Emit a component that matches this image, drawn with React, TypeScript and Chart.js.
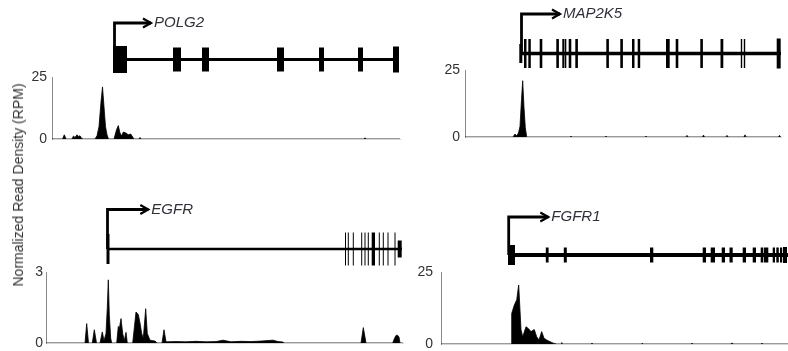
import React, { useEffect, useRef } from "react";
import { Chart, registerables } from "chart.js";

Chart.register(...registerables);

// ---------- DATA (x in positions relative to each panel's axis, y in RPM) ----------
const geneNames = ["POLG2", "MAP2K5", "EGFR", "FGFR1"];
const yAxisMax = [25, 25, 3, 25];
const yAxisTitle = "Normalized Read Density (RPM)";

// POLG2
const polg2DensX = [0, 10.5, 12.3, 14, 20, 21.5, 23, 25, 26.5, 28, 29.5, 31, 43, 45, 47, 49, 50.5, 52, 53.5, 55, 56.5, 62, 64.5, 66.3, 68, 69.7, 71.3, 74, 76.3, 78.7, 80.7, 82, 87, 88, 89, 312, 313, 314, 348];
const polg2DensY = [0, 0, 1.7, 0, 0, 1.2, 0.6, 1.7, 1.0, 1.3, 0.3, 0, 0, 1.3, 5, 15, 21, 13, 5, 1.7, 0, 0, 3.7, 5.4, 2.4, 1.3, 2.8, 2.4, 1.7, 2.0, 0.8, 0, 0, 0.6, 0, 0, 0.5, 0, 0];
const polg2ExonStart = [61, 121, 150, 225, 267, 306, 341];
const polg2ExonEnd = [75, 129, 157, 232, 272, 311, 347];
const polg2Gene = { intronStart: 62, intronEnd: 347, tss: 62.5, arrowEnd: 99 };

// MAP2K5
const map2k5DensX = [0, 48, 50, 51.5, 53.5, 55, 56.5, 57.7, 59, 60.3, 61.7, 105, 106, 107, 140, 141, 142, 180, 181, 182, 221, 222, 223, 237.5, 238.5, 239.5, 261, 262, 263, 279, 280, 281, 313.5, 314.5, 315.5, 316];
const map2k5DensY = [0, 0, 1.1, 0.4, 1.5, 4, 14, 21, 11, 3.5, 0, 0, 0.3, 0, 0, 0.3, 0, 0, 0.3, 0, 0, 0.6, 0, 0, 0.7, 0, 0, 0.6, 0, 0, 0.8, 0, 0, 0.6, 0, 0];
const map2k5ExonStart = [54.3, 59, 63.3, 74.7, 91.3, 97.3, 99.5, 103.7, 110.3, 141.3, 155.3, 167, 172.7, 201, 210.7, 235.3, 255.5, 275.8, 278.8, 311.7];
const map2k5ExonEnd = [57.3, 61.5, 65.8, 77.3, 93.9, 99, 101.3, 106.3, 112.9, 143.9, 157.9, 169.5, 175.2, 204.7, 213.3, 237.9, 258.3, 277.2, 280.2, 315.7];
const map2k5Gene = { intronStart: 55, intronEnd: 316, tss: 56.5, arrowEnd: 95 };

// EGFR
const egfrDensX = [0, 39, 40.7, 42.5, 46.3, 48.3, 50.5, 54, 56.3, 58, 60, 61.3, 62.3, 63.3, 64.7, 65.7, 70.7, 72.3, 73.3, 75, 76.7, 78.3, 80, 81.3, 86.7, 90, 92.3, 94, 95.7, 97.3, 99.7, 101.3, 104, 109, 111, 116, 118, 120, 130, 140, 150, 160, 170, 177, 185, 195, 205, 215, 227, 232, 237, 238, 315, 317.3, 320, 346.7, 348.5, 350, 351.5, 353, 354, 357];
const egfrDensY = [0, 0, 0.82, 0, 0, 0.56, 0, 0, 0.47, 0.1, 0.4, 1.5, 2.67, 1.2, 0.2, 0, 0, 0.7, 0.6, 1.03, 0.4, 0.1, 0.45, 0, 0, 1.31, 1.2, 0.85, 0.4, 0.2, 1.45, 0.4, 0.12, 0.08, 0, 0, 0.56, 0.05, 0.06, 0.05, 0.07, 0.05, 0.06, 0.12, 0.05, 0.07, 0.06, 0.08, 0.12, 0.06, 0.04, 0, 0, 0.65, 0, 0, 0.2, 0.32, 0.33, 0.25, 0, 0];
const egfrExonStart = [60.5, 299, 301.8, 306.8, 315.2, 318.5, 321.8, 325.7, 332.8, 336.8, 341.5, 348.5, 351.7];
const egfrExonEnd = [63.5, 300, 302.8, 307.8, 316.2, 319.5, 322.8, 329, 333.8, 337.8, 342.5, 349.5, 355.7];
const egfrGene = { intronStart: 61.5, intronEnd: 356, tss: 61.5, arrowEnd: 102.3 };

// FGFR1
const fgfr1DensX = [0, 70, 70.7, 73.3, 75.7, 77.7, 80, 81.7, 85, 87.3, 90, 93.3, 95.7, 98, 100.7, 103, 105.7, 109, 112.3, 115.7, 120, 120.7, 121.5, 150, 151, 152, 200, 201, 202, 250, 251, 252, 290, 291, 292, 320, 321, 322, 347];
const fgfr1DensY = [0, 0, 10.6, 13.5, 15.3, 20.5, 5, 2.5, 6, 5.4, 4.3, 5, 2.5, 1.4, 4.3, 2, 1.4, 0.8, 0.3, 0, 0, 0.5, 0, 0, 0.3, 0, 0, 0.3, 0, 0, 0.3, 0, 0, 0.4, 0, 0, 0.3, 0, 0];
const fgfr1ExonStart = [67, 104.8, 122.8, 209, 261.7, 269.7, 280.7, 288.5, 301.7, 311.7, 319.7, 323, 331.7, 335.3, 339, 342];
const fgfr1ExonEnd = [74, 107.6, 125.8, 212.3, 265, 274, 284, 291.7, 305, 315, 322.3, 327.3, 334, 337.8, 341.2, 346];
const fgfr1Gene = { intronStart: 67.5, intronEnd: 347, tss: 67.7, arrowEnd: 107.3 };

// ---------- LAYOUT / STYLE ----------
const FONT = '"Liberation Sans", Arial, sans-serif';
const Y_AXIS_W = 40;

type Panel = {
  name: string;
  yMax: number;
  densX: number[];
  densY: number[];
  exonStart: number[];
  exonEnd: number[];
  gene: { intronStart: number; intronEnd: number; tss: number; arrowEnd: number };
  layout: {
    axisX: number; axisTop: number; axisBottom: number; span: number;
    intronY: number; arrowY: number; intronW: number;
    exonH: number; firstH: number; lastH: number; tickPad: number;
  };
};

const panels: Panel[] = [
  {
    name: geneNames[0], yMax: yAxisMax[0], densX: polg2DensX, densY: polg2DensY,
    exonStart: polg2ExonStart, exonEnd: polg2ExonEnd, gene: polg2Gene,
    layout: { axisX: 52, axisTop: 77, axisBottom: 139, span: 348, intronY: 59.5, arrowY: 23, intronW: 3, exonH: 24, firstH: 27, lastH: 26, tickPad: 5 },
  },
  {
    name: geneNames[1], yMax: yAxisMax[1], densX: map2k5DensX, densY: map2k5DensY,
    exonStart: map2k5ExonStart, exonEnd: map2k5ExonEnd, gene: map2k5Gene,
    layout: { axisX: 465, axisTop: 70, axisBottom: 137, span: 316, intronY: 53.5, arrowY: 14, intronW: 3.5, exonH: 29, firstH: 19, lastH: 30, tickPad: 5 },
  },
  {
    name: geneNames[2], yMax: yAxisMax[2], densX: egfrDensX, densY: egfrDensY,
    exonStart: egfrExonStart, exonEnd: egfrExonEnd, gene: egfrGene,
    layout: { axisX: 46, axisTop: 272, axisBottom: 343, span: 357, intronY: 249, arrowY: 209.5, intronW: 2.5, exonH: 33, firstH: 30, lastH: 17, tickPad: 3 },
  },
  {
    name: geneNames[3], yMax: yAxisMax[3], densX: fgfr1DensX, densY: fgfr1DensY,
    exonStart: fgfr1ExonStart, exonEnd: fgfr1ExonEnd, gene: fgfr1Gene,
    layout: { axisX: 441, axisTop: 272, axisBottom: 344, span: 347, intronY: 255, arrowY: 217, intronW: 4, exonH: 15, firstH: 20, lastH: 16, tickPad: 8 },
  },
];

function useChart(ref: React.RefObject<HTMLCanvasElement | null>, make: () => any) {
  useEffect(() => {
    if (!ref.current) return;
    const chart = new Chart(ref.current, make());
    return () => chart.destroy();
  }, []);
}

function DensityChart({ p }: { p: Panel }) {
  const ref = useRef<HTMLCanvasElement>(null);
  const L = p.layout;
  const PAD = 10;
  const left = L.axisX - Y_AXIS_W;
  const top = L.axisTop - PAD;
  const width = Y_AXIS_W + L.span + 2;
  const height = L.axisBottom - L.axisTop + 2 * PAD;
  useChart(ref, () => ({
    type: "line",
    data: {
      datasets: [
        {
          data: p.densX.map((x, i) => ({ x, y: p.densY[i] })),
          fill: "origin",
          backgroundColor: "#000",
          borderColor: "#000",
          borderWidth: 0.8,
          pointRadius: 0,
          tension: 0,
        },
      ],
    },
    options: {
      animation: false,
      responsive: false,
      devicePixelRatio: 1,
      events: [],
      layout: { padding: { top: PAD, bottom: PAD, left: 0, right: 2 } },
      plugins: { legend: { display: false }, tooltip: { enabled: false }, title: { display: false } },
      scales: {
        x: {
          type: "linear", min: 0, max: L.span,
          grid: { display: false, drawTicks: false },
          ticks: { display: false },
          border: { display: true, color: "#d4d4d4", width: 1 },
          afterFit: (s: any) => { s.height = 0; s.paddingLeft = 0; s.paddingRight = 0; },
        },
        y: {
          type: "linear", min: 0, max: p.yMax,
          grid: { display: false, drawTicks: false },
          border: { display: true, color: "#8a8a8a", width: 1 },
          ticks: { color: "#333", font: { family: FONT, size: 14 }, padding: L.tickPad },
          afterBuildTicks: (s: any) => { s.ticks = [{ value: 0 }, { value: p.yMax }]; },
          afterFit: (s: any) => { s.width = Y_AXIS_W; s.paddingTop = 0; s.paddingBottom = 0; },
        },
      },
    },
  }));
  return (
    <canvas ref={ref} width={width} height={height}
      style={{ position: "absolute", left, top, width, height }} />
  );
}

function GeneChart({ p }: { p: Panel }) {
  const ref = useRef<HTMLCanvasElement>(null);
  const L = p.layout;
  const ppu = L.intronY - L.arrowY;
  const top = Math.floor(L.arrowY - 18);
  const bottom = Math.ceil(L.intronY + 22);
  const height = bottom - top;
  const width = L.span;
  const yMaxV = (L.intronY - top) / ppu;
  const yMinV = (L.intronY - bottom) / ppu;
  const G = p.gene;
  useChart(ref, () => {
    const n = p.exonStart.length;
    const exonSets = p.exonStart.map((s, i) => ({
      data: [{ x: s, y: 0 }, { x: p.exonEnd[i], y: 0 }],
      borderColor: "#000",
      borderWidth: i === 0 ? L.firstH : i === n - 1 ? L.lastH : L.exonH,
      borderCapStyle: "butt",
      pointRadius: 0,
      fill: false,
      clip: false,
    }));
    const labelPlugin = {
      id: "geneLabel",
      afterDatasetsDraw(chart: any) {
        const { ctx, scales } = chart;
        const px = scales.x.getPixelForValue(G.arrowEnd);
        const py = scales.y.getPixelForValue(1);
        ctx.save();
        ctx.strokeStyle = "#000";
        ctx.lineWidth = 2.2;
        ctx.lineJoin = "miter";
        ctx.beginPath();
        ctx.moveTo(px - 8, py - 4.5);
        ctx.lineTo(px, py);
        ctx.lineTo(px - 8, py + 4.5);
        ctx.stroke();
        ctx.font = `italic 15px ${FONT}`;
        ctx.fillStyle = "#30303a";
        ctx.textAlign = "left";
        ctx.textBaseline = "middle";
        ctx.fillText(p.name, px + 3, py);
        ctx.restore();
      },
    };
    return {
      type: "line",
      data: {
        datasets: [
          {
            data: [{ x: G.intronStart, y: 0 }, { x: G.intronEnd, y: 0 }],
            borderColor: "#000", borderWidth: L.intronW, borderCapStyle: "butt",
            pointRadius: 0, fill: false, clip: false,
          },
          ...exonSets,
          {
            data: [{ x: G.tss, y: 0 }, { x: G.tss, y: 1 }, { x: G.arrowEnd, y: 1 }],
            borderColor: "#000", borderWidth: 2.8, borderCapStyle: "butt", borderJoinStyle: "miter",
            pointRadius: 0, fill: false, clip: false, tension: 0,
          },
        ],
      },
      options: {
        animation: false,
        responsive: false,
        devicePixelRatio: 1,
        events: [],
        layout: { padding: 0 },
        plugins: { legend: { display: false }, tooltip: { enabled: false } },
        scales: {
          x: { type: "linear", min: 0, max: L.span, display: false },
          y: { type: "linear", min: yMinV, max: yMaxV, display: false },
        },
      },
      plugins: [labelPlugin],
    };
  });
  return (
    <canvas ref={ref} width={width} height={height}
      style={{ position: "absolute", left: L.axisX, top, width, height }} />
  );
}

export default function App() {
  return (
    <div style={{ position: "absolute", left: 0, top: 0, width: 788, height: 351, overflow: "hidden", background: "#fff" }}>
      {panels.map((p) => (
        <React.Fragment key={p.name}>
          <DensityChart p={p} />
          <GeneChart p={p} />
        </React.Fragment>
      ))}
      <div
        style={{
          position: "absolute", left: 18, top: 185,
          transform: "translate(-50%, -50%) rotate(-90deg)",
          whiteSpace: "nowrap", fontFamily: FONT, fontSize: 14, color: "#333",
        }}
      >
        {yAxisTitle}
      </div>
    </div>
  );
}
